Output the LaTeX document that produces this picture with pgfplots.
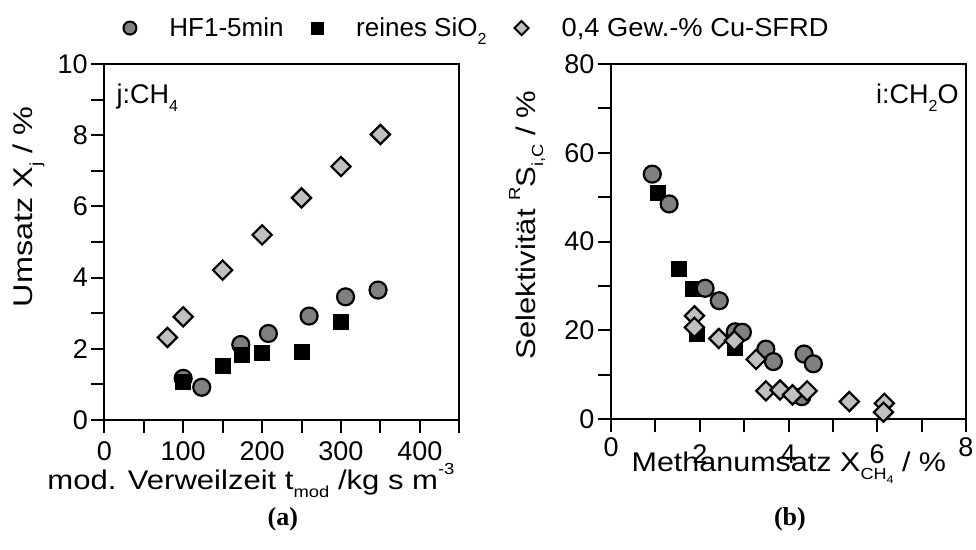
\documentclass[border=0pt]{standalone}
\usepackage{graphicx}
\usepackage{fontspec}
\setmainfont{Liberation Sans}
\newfontfamily\serifbf{Liberation Serif}
\usepackage{pgfplots}
\pgfplotsset{compat=1.18}
\definecolor{cgray}{HTML}{808080}
\definecolor{dgray}{HTML}{C0C0C0}
\newcommand\fsz{\fontsize{26}{30}\selectfont}
\newcommand\tsz{\fontsize{27}{30}\selectfont}
\newcommand\lsz{\fontsize{27}{30}\selectfont}
\newcommand\tsub[1]{\raisebox{-0.3em}{\fontsize{16}{16}\selectfont #1}}
\newcommand\tsup[1]{\raisebox{0.55em}{\fontsize{16}{16}\selectfont #1}}
\newcommand\tsubb[1]{\raisebox{-0.25em}{\fontsize{11}{11}\selectfont #1}}
\newcommand\hs[2]{\scalebox{#1}[1]{#2}}
\pgfplotsset{
  myaxis/.style={
    scale only axis, clip=false,
    axis line style={line width=2pt},
    tick style={line width=2pt, black},
    tick align=outside, major tick length=13pt, minor tick length=13pt,
    xtick pos=bottom, ytick pos=left,
    tick label style={font=\tsz},
    /pgf/number format/assume math mode=true,
    label style={font=\lsz},
    legend image code/.code={\draw[##1] plot coordinates {(0pt,0pt)};},
  },
  circ/.style={only marks, mark=*, mark size=8.5pt, mark options={fill=cgray, draw=black, line width=2.2pt}},
  sq/.style={only marks, mark=square*, mark size=7.5pt, mark options={fill=black, draw=black, line width=1pt}},
  dia/.style={only marks, mark=square*, mark size=6.8pt, mark options={rotate=45, fill=dgray, draw=black, line width=2.2pt}},
}
\begin{document}
\begin{tikzpicture}
\path[use as bounding box] (0pt,0pt) rectangle (976pt,-549pt);
\begin{axis}[myaxis,
  at={(104.3pt,-420pt)}, anchor=south west, width=355pt, height=356pt,
  xmin=0, xmax=450, ymin=0, ymax=10,
  xtick={0,100,...,400}, minor xtick={50,150,...,450},
  xticklabel style={yshift=-5pt},
  ytick={0,2,...,10}, minor ytick={1,3,...,9},
  xlabel={\hs{1.15}{mod. Verweilzeit t\tsub{mod} /kg s m\tsup{-3}}},
  ylabel={\hs{1.2}{Umsatz X\tsub{j} / \%}},
  xlabel style={at={(axis description cs:0.413,-0.196)}, anchor=base},
  ylabel style={at={(axis description cs:-0.201,0.598)}, anchor=base},
  legend style={at={(axis description cs:0.054,1.101)}, anchor=west,
    draw=none, fill=none, inner sep=0pt, outer sep=0pt, font=\fsz,
    legend columns=3, legend cell align=left,
    /tikz/every odd column/.append style={column sep=31pt},
    /tikz/every even column/.append style={column sep=26pt}},
]
\addlegendimage{only marks, mark=*, mark size=6.5pt, mark options={fill=cgray, draw=black, line width=2pt}}
\addlegendentry{HF1-5min}
\addlegendimage{only marks, mark=square*, mark size=5.8pt, mark options={fill=black, draw=black}}
\addlegendentry{reines SiO\tsub{2}\hspace{7pt}}
\addlegendimage{only marks, mark=square*, mark size=5pt, mark options={rotate=45, fill=dgray, draw=black, line width=2pt}}
\addlegendentry{\hs{1.05}{0,4 Gew.-\% Cu-SFRD}}
\addplot[circ, forget plot] coordinates {(100,1.17) (123.5,0.92) (173,2.12) (208,2.43) (259.6,2.92) (305.8,3.46) (347,3.65)};
\addplot[sq, forget plot] coordinates {(100,1.06) (150,1.53) (175,1.84) (200,1.89) (250,1.92) (300,2.76)};
\addplot[dia, forget plot] coordinates {(80,2.32) (100,2.90) (150,4.21) (200,5.20) (250,6.24) (300,7.12) (350,8.02)};
\node[anchor=base west, font=\lsz] at (rel axis cs:0.0245,0.890) {j:CH\tsub{4}};
\node[font=\serifbf\bfseries\fontsize{26}{30}\selectfont] at (axis description cs:0.503,-0.278) {(a)};
\end{axis}
\begin{axis}[myaxis,
  at={(611pt,-419.3pt)}, anchor=south west, width=355pt, height=355.3pt,
  xmin=0, xmax=8, ymin=0, ymax=80,
  xtick={0,2,4,6,8}, minor xtick={1,3,5,7},
  xticklabels={0,\raisebox{-7pt}[\height][0pt]{2},\raisebox{-7pt}[\height][0pt]{4},\raisebox{-7pt}[\height][0pt]{6},8},
  xticklabel style={yshift=-2pt},
  ytick={0,20,...,80}, minor ytick={10,30,50,70},
  xlabel={\hs{1.13}{Methanumsatz X\tsub{CH\tsubb{4}} / \%}},
  ylabel={\hs{1.15}{Selektivit\"at \tsup{R}S\tsub{i,C} / \%}},
  xlabel style={at={(axis description cs:0.501,-0.148)}, anchor=base},
  ylabel style={at={(axis description cs:-0.214,0.547)}, anchor=base},
]
\addplot[sq] coordinates {(1.06,51.0) (1.53,33.8) (1.84,29.3) (1.93,19.2) (2.80,16.0)};
\addplot[circ] coordinates {(0.93,55.2) (1.31,48.5) (2.12,29.5) (2.44,26.7) (2.80,19.7) (2.96,19.6) (3.49,15.8) (3.66,13.0) (4.35,14.7) (4.56,12.5) (4.30,5.1)};
\addplot[dia] coordinates {(1.88,23.3) (1.88,20.7) (2.43,18.2) (2.78,17.7) (3.27,13.5) (3.49,6.4) (3.81,6.6) (4.09,5.5) (4.42,6.4) (5.37,4.0) (6.16,3.6) (6.14,1.6)};
\node[anchor=base east, font=\lsz] at (rel axis cs:0.989,0.890) {i:CH\tsub{2}O};
\node[font=\serifbf\bfseries\fontsize{26}{30}\selectfont] at (axis description cs:0.504,-0.281) {(b)};
\end{axis}
\end{tikzpicture}
\end{document}
